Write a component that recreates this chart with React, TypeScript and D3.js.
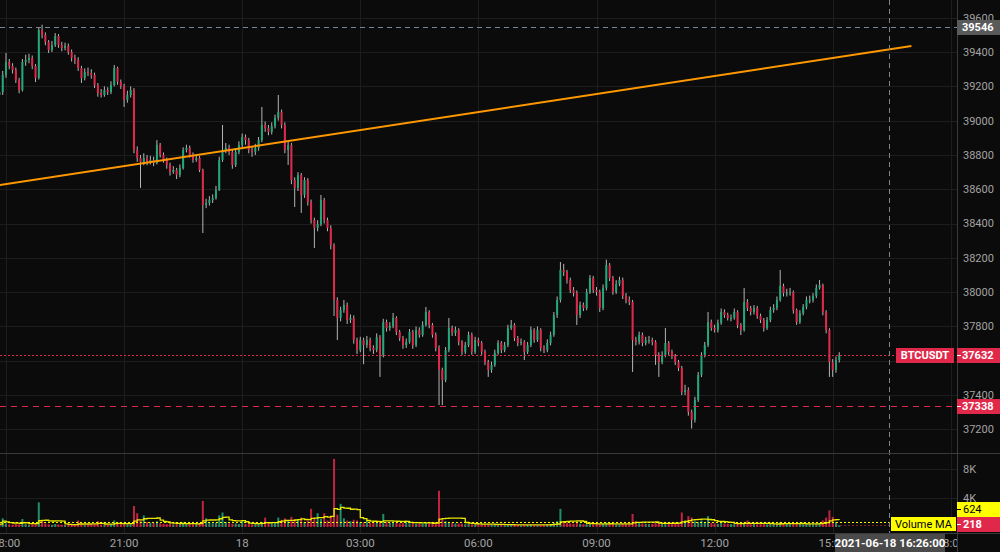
import React from 'react';
import * as d3 from 'd3';

// 5-minute bars starting 2021-06-17 17:50
const startTime = '2021-06-17 17:50';
const barMinutes = 5;
const firstOpen = 39150;
const closes = [
39167,39266,39342,39319,39296,39237,39179,39342,39354,39366,
39319,39249,39529,39500,39459,39412,39441,39494,39441,39424,
39436,39401,39366,39354,39307,39249,39284,39278,39266,39208,
39161,39150,39179,39167,39208,39307,39226,39202,39121,39150,
39179,38829,38783,38759,38783,38759,38771,38753,38858,38800,
38771,38742,38701,38713,38683,38724,38829,38841,38800,38771,
38783,38713,38509,38520,38538,38549,38596,38771,38829,38841,
38818,38742,38818,38858,38905,38887,38829,38818,38841,38887,
38975,38957,38934,38969,39016,39051,38975,38829,38858,38654,
38608,38683,38567,38654,38526,38421,38375,38398,38538,38421,
38375,38275,37955,37850,37896,37926,37838,37850,37721,37663,
37721,37692,37721,37675,37663,37739,37634,37826,37791,37803,
37850,37768,37733,37692,37710,37768,37692,37780,37751,37809,
37885,37809,37751,37675,37547,37488,37663,37791,37762,37780,
37710,37652,37692,37751,37652,37721,37704,37652,37593,37547,
37576,37646,37704,37663,37692,37791,37809,37733,37704,37710,
37652,37692,37780,37721,37780,37675,37663,37704,37751,37867,
37955,38130,38118,38071,38013,37995,37867,37926,37908,38001,
38083,38013,38001,37908,38025,38159,38083,38001,38048,38071,
37978,37955,37943,37721,37710,37751,37704,37721,37721,37710,
37634,37593,37634,37704,37652,37628,37593,37558,37418,37430,
37302,37255,37372,37517,37634,37692,37826,37791,37780,37821,
37885,37867,37850,37850,37885,37809,37780,37943,37908,37885,
37908,37861,37838,37791,37838,37896,37908,37955,38036,37995,
37995,38001,37896,37826,37879,37914,37955,37955,37978,38025,
38042,37885,37780,37593,37547,37605,37632];
const highs = [
39190,39290,39395,39360,39335,39310,39250,39360,39385,39390,
39380,39330,39545,39560,39515,39470,39465,39511,39505,39460,
39455,39450,39415,39385,39370,39320,39305,39310,39300,39280,
39220,39185,39200,39195,39230,39325,39315,39240,39215,39175,
39200,39190,38850,38800,38810,38800,38795,38790,38887,38870,
38815,38785,38755,38735,38725,38745,38845,38860,38855,38815,
38805,38795,38720,38545,38560,38570,38620,38790,38975,38870,
38860,38830,38840,38880,38925,38920,38900,38850,38865,38905,
39080,38995,38975,38990,39035,39150,39065,38990,38880,38870,
38670,38700,38695,38670,38665,38540,38435,38420,38567,38550,
38435,38390,38285,37970,37915,37955,37940,37870,37865,37735,
37740,37735,37745,37735,37690,37760,37750,37845,37840,37825,
37879,37860,37780,37745,37730,37785,37780,37800,37795,37830,
37914,37895,37820,37765,37690,37560,37680,37850,37805,37800,
37790,37720,37710,37770,37765,37740,37735,37715,37665,37605,
37595,37665,37720,37715,37710,37810,37838,37820,37745,37730,
37720,37710,37800,37790,37800,37790,37690,37725,37770,37885,
37975,38176,38165,38130,38085,38030,38010,37945,37940,38020,
38100,38095,38030,38015,38045,38190,38170,38095,38070,38090,
38085,37995,37975,37955,37740,37770,37765,37740,37745,37735,
37720,37650,37655,37791,37715,37665,37640,37605,37570,37460,
37445,37315,37390,37535,37650,37710,37885,37840,37810,37840,
37905,37900,37880,37870,37905,37895,37820,38025,37960,37920,
37925,37920,37875,37850,37855,37915,37930,37975,38130,38050,
38020,38025,38010,37905,37895,37930,37975,37980,37995,38045,
38071,38050,37895,37790,37610,37625,37650];
const lows = [
39130,39150,39250,39300,39275,39220,39160,39170,39320,39335,
39300,39225,39240,39480,39440,39395,39400,39430,39425,39405,
39410,39385,39345,39330,39290,39220,39235,39260,39245,39190,
39140,39135,39140,39150,39155,39200,39210,39185,39080,39105,
39135,38810,38760,38608,38740,38740,38745,38735,38745,38785,
38755,38720,38680,38690,38660,38670,38715,38815,38785,38755,
38760,38700,38345,38490,38505,38520,38540,38590,38760,38810,
38800,38720,38730,38805,38845,38860,38810,38790,38800,38825,
38875,38935,38915,38920,38955,39000,38955,38810,38742,38630,
38497,38590,38462,38550,38505,38400,38258,38355,38385,38400,
38355,38250,37861,37721,37830,37880,37815,37820,37700,37640,
37650,37580,37675,37655,37640,37650,37506,37620,37770,37775,
37790,37750,37715,37670,37675,37700,37670,37680,37735,37740,
37800,37790,37735,37655,37342,37342,37475,37650,37745,37745,
37690,37635,37640,37680,37635,37640,37685,37635,37575,37506,
37530,37565,37635,37645,37650,37680,37780,37715,37685,37690,
37605,37640,37680,37705,37710,37655,37645,37650,37690,37740,
37850,37940,38095,38050,37995,37975,37809,37850,37890,37895,
37990,37995,37980,37885,37895,38010,38065,37985,37990,38035,
37960,37935,37925,37535,37690,37695,37685,37690,37700,37690,
37576,37506,37580,37620,37635,37610,37575,37540,37400,37400,
37280,37205,37240,37360,37505,37620,37680,37775,37765,37765,
37810,37850,37835,37830,37840,37790,37750,37770,37890,37865,
37870,37845,37820,37770,37780,37825,37880,37895,37945,37975,
37975,37980,37875,37810,37815,37865,37900,37935,37940,37965,
38015,37865,37760,37506,37506,37530,37590];
const volumes = [
400,1200,500,350,300,450,380,1100,420,300,350,480,3400,900,500,380,300,420,350,300,
280,350,300,400,900,450,320,300,380,420,800,350,300,280,400,900,450,350,600,400,
450,2900,1900,900,1600,700,600,550,800,500,450,400,500,380,450,400,600,500,420,380,
400,500,3600,1200,700,500,600,1600,2000,700,500,450,500,420,800,450,400,380,420,450,
700,1300,600,500,550,1300,1000,1200,800,1400,1000,900,1300,700,900,2500,1100,1900,1100,1900,
900,1500,9400,1700,3200,1200,900,800,1000,900,700,650,1000,600,700,550,800,1800,700,600,
650,550,500,600,900,500,550,480,500,450,600,500,550,700,5000,1000,800,700,600,500,
500,450,400,420,380,350,400,380,350,420,380,300,280,300,320,280,300,260,280,300,
320,280,300,260,280,300,320,350,400,600,800,2500,700,600,500,450,600,450,400,420,
450,400,380,420,450,600,450,400,380,350,420,400,450,1800,800,600,500,450,400,420,
550,600,500,550,450,500,550,600,2000,900,1500,1300,800,700,900,700,1500,600,500,450,
700,500,450,400,380,420,450,600,900,500,420,380,400,450,380,420,400,450,700,500,
420,400,450,500,420,380,400,450,420,500,550,900,1300,2300,1400,700,218];

const priceTicks = [37200,37400,37600,37800,38000,38200,38400,38600,38800,39000,39200,39400,39600];
const volumeTicks = [4000, 8000];
const volumeTickLabels = ['4K', '8K'];
const timeTicks = ['2021-06-17 18:00','2021-06-17 21:00','2021-06-18 00:00','2021-06-18 03:00','2021-06-18 06:00','2021-06-18 09:00','2021-06-18 12:00','2021-06-18 15:00','2021-06-18 18:00'];
const timeTickLabels = ['18:00','21:00','18','03:00','06:00','09:00','12:00','15:00','18:00'];
const trendTimes = ['2021-06-17 17:50', '2021-06-18 17:00'];
const trendPrices = [38625, 39435];
const crossTime = '2021-06-18 16:26';
const crossTimeLabel = '2021-06-18 16:26:00';
const crossPrice = 39546;
const alertPrice = 37338;
const lastPrice = 37632;
const symbol = 'BTCUSDT';
const volumeMALast = 624;
const lastVolume = 218;
const maPeriod = 8;

const UP = '#22a87a';
const DOWN = '#e0294a';
const WICK = '#b5b5b5';
const BG = '#0b0b0b';
const GRID = '#1d1d1d';
const TXT = '#a3a3a3';
const FONT = 'Roboto, "Liberation Sans", sans-serif';

export default function App() {
  const W = 1000, H = 552;
  const plotR = 957;
  const paneSep = 453;
  const axisTop = 533;
  const parse = d3.timeParse('%Y-%m-%d %H:%M');
  const t0 = parse(startTime) as Date;
  const times = closes.map((_, i) => d3.timeMinute.offset(t0, i * barMinutes));
  const x = d3.scaleTime()
    .domain([parse(timeTicks[0]) as Date, parse(timeTicks[timeTicks.length - 1]) as Date])
    .range([6, 950.8]);
  const y = d3.scaleLinear().domain([37200, 39600]).range([429.4, 17.8]);
  const yv = d3.scaleLinear().domain([0, 8000]).range([527, 469]);
  const opens = closes.map((c, i) => (i === 0 ? firstOpen : closes[i - 1]));

  const ma = volumes.map((_, i) => d3.mean(volumes.slice(Math.max(0, i - maPeriod + 1), i + 1)) as number);
  const maLine = d3.line<number>()
    .x((_, i) => x(times[i]))
    .y((d) => yv(d))
    .curve(d3.curveStepAfter)(ma) as string;

  const cx = x(parse(crossTime) as Date);
  const cy = y(crossPrice);
  const trendPath = d3.line<number>()
    .x((_, i) => x(parse(trendTimes[i]) as Date))
    .y((d) => y(d))(trendPrices) as string;

  const bodyW = 2;
  const lastY = y(lastPrice);
  const visiblePriceTicks = priceTicks.filter((p) => Math.abs(y(p) - lastY) > 9);

  return (
    <svg width={W} height={H} style={{ position: 'absolute', left: 0, top: 0, background: BG, fontFamily: FONT }}>
      <defs>
        <clipPath id="pricePane"><rect x={0} y={0} width={plotR} height={paneSep} /></clipPath>
        <clipPath id="volPane"><rect x={0} y={paneSep} width={plotR} height={axisTop - paneSep} /></clipPath>
        <clipPath id="timeAxis"><rect x={0} y={axisTop} width={plotR} height={H - axisTop} /></clipPath>
      </defs>
      <rect x={0} y={0} width={W} height={H} fill={BG} />

      <g>
        {priceTicks.map((p) => (
          <line key={'hg' + p} x1={0} x2={plotR} y1={Math.round(y(p)) + 0.5} y2={Math.round(y(p)) + 0.5} stroke={GRID} />
        ))}
        {volumeTicks.map((v) => (
          <line key={'vg' + v} x1={0} x2={plotR} y1={Math.round(yv(v)) + 0.5} y2={Math.round(yv(v)) + 0.5} stroke={GRID} />
        ))}
        {timeTicks.map((t) => {
          const xx = Math.round(x(parse(t) as Date)) + 0.5;
          return xx < plotR ? <line key={'tg' + t} x1={xx} x2={xx} y1={0} y2={axisTop} stroke={GRID} /> : null;
        })}
      </g>

      <g clipPath="url(#pricePane)">
        {closes.map((c, i) => {
          const xx = x(times[i]);
          const o = opens[i];
          const top = y(Math.max(o, c));
          const bot = y(Math.min(o, c));
          const col = c >= o ? UP : DOWN;
          return (
            <g key={'c' + i}>
              <line x1={xx} x2={xx} y1={y(highs[i])} y2={y(lows[i])} stroke={WICK} strokeWidth={1} />
              <rect x={xx - bodyW / 2} y={top} width={bodyW} height={Math.max(1, bot - top)} fill={col} />
            </g>
          );
        })}
      </g>

      <g clipPath="url(#pricePane)">
        <path d={trendPath} stroke="#ff9800" strokeWidth={2} fill="none" />
      </g>

      <line x1={0} x2={896} y1={Math.round(lastY) + 0.5} y2={Math.round(lastY) + 0.5} stroke={DOWN} strokeDasharray="2 2" />
      <line x1={0} x2={plotR} y1={Math.round(y(alertPrice)) + 0.5} y2={Math.round(y(alertPrice)) + 0.5} stroke={DOWN} strokeDasharray="6 5" />

      <g clipPath="url(#volPane)">
        {volumes.map((v, i) => {
          const xx = x(times[i]);
          const col = closes[i] >= opens[i] ? UP : DOWN;
          return <rect key={'v' + i} x={xx - bodyW / 2} y={yv(v)} width={bodyW} height={yv(0) - yv(v)} fill={col} opacity={0.85} />;
        })}
        <path d={maLine} stroke="#e8e800" strokeWidth={1.3} fill="none" />
        <line x1={0} x2={891} y1={yv(volumeMALast)} y2={yv(volumeMALast)} stroke="#ffff00" strokeDasharray="2 2" />
        <line x1={0} x2={891} y1={yv(lastVolume)} y2={yv(lastVolume)} stroke={DOWN} strokeOpacity={0.6} strokeDasharray="2 2" />
      </g>

      <line x1={Math.round(cx) + 0.5} x2={Math.round(cx) + 0.5} y1={0} y2={axisTop} stroke="#758696" strokeDasharray="5 4" />
      <line x1={0} x2={plotR} y1={Math.round(cy) + 0.5} y2={Math.round(cy) + 0.5} stroke="#758696" strokeDasharray="5 4" />

      <line x1={0} x2={W} y1={paneSep + 0.5} y2={paneSep + 0.5} stroke="#3a3a3a" />
      <line x1={0} x2={W} y1={axisTop + 0.5} y2={axisTop + 0.5} stroke="#3a3a3a" />
      <line x1={plotR + 0.5} x2={plotR + 0.5} y1={0} y2={H} stroke="#3a3a3a" />

      <g fontSize={11} fill={TXT}>
        {visiblePriceTicks.map((p) => (
          <text key={'pl' + p} x={963} y={y(p)} dy="0.35em">{p}</text>
        ))}
        {volumeTicks.map((v, i) => (
          <text key={'vl' + v} x={963} y={yv(v)} dy="0.35em">{volumeTickLabels[i]}</text>
        ))}
      </g>

      <g fontSize={11.5} fill={TXT} clipPath="url(#timeAxis)">
        {timeTicks.map((t, i) => (
          <text key={'tl' + t} x={x(parse(t) as Date)} y={543} dy="0.35em" textAnchor="middle">{timeTickLabels[i]}</text>
        ))}
      </g>

      <rect x={plotR} y={Math.round(cy) - 7} width={W - plotR} height={15} fill="#5a5a5a" />
      <text x={962} y={cy} dy="0.35em" fontSize={11} fontWeight="bold" fill="#fff">{crossPrice}</text>

      <rect x={896} y={Math.round(lastY) - 7} width={58} height={15} fill={DOWN} />
      <text x={925} y={lastY} dy="0.35em" fontSize={11} fontWeight="bold" fill="#fff" textAnchor="middle">{symbol}</text>
      <rect x={plotR} y={Math.round(lastY) - 7} width={W - plotR} height={15} fill={DOWN} />
      <line x1={plotR} x2={961} y1={Math.round(lastY) + 0.5} y2={Math.round(lastY) + 0.5} stroke="#fff" />
      <text x={962} y={lastY} dy="0.35em" fontSize={11} fontWeight="bold" fill="#fff">{lastPrice}</text>

      <rect x={plotR} y={Math.round(y(alertPrice)) - 7} width={W - plotR} height={15} fill={DOWN} />
      <line x1={plotR} x2={961} y1={Math.round(y(alertPrice)) + 0.5} y2={Math.round(y(alertPrice)) + 0.5} stroke="#fff" />
      <text x={962} y={y(alertPrice)} dy="0.35em" fontSize={11} fontWeight="bold" fill="#fff">{alertPrice}</text>

      <rect x={891} y={517} width={65} height={14} fill="#ffff00" />
      <text x={923.5} y={524} dy="0.35em" fontSize={11} fill="#000" textAnchor="middle">Volume MA</text>
      <rect x={plotR} y={502} width={W - plotR} height={15} fill="#ffff00" />
      <line x1={plotR} x2={961} y1={509.5} y2={509.5} stroke="#000" />
      <text x={963} y={509.5} dy="0.35em" fontSize={11} fill="#000">{volumeMALast}</text>
      <rect x={plotR} y={517} width={W - plotR} height={15} fill={DOWN} />
      <line x1={plotR} x2={961} y1={524.5} y2={524.5} stroke="#fff" />
      <text x={963} y={524.5} dy="0.35em" fontSize={11} fontWeight="bold" fill="#fff">{lastVolume}</text>

      <rect x={835} y={534} width={110} height={18} fill="#4a4a4a" />
      <text x={890} y={543} dy="0.35em" fontSize={11.5} fontWeight="bold" fill="#fff" textAnchor="middle">{crossTimeLabel}</text>
    </svg>
  );
}
